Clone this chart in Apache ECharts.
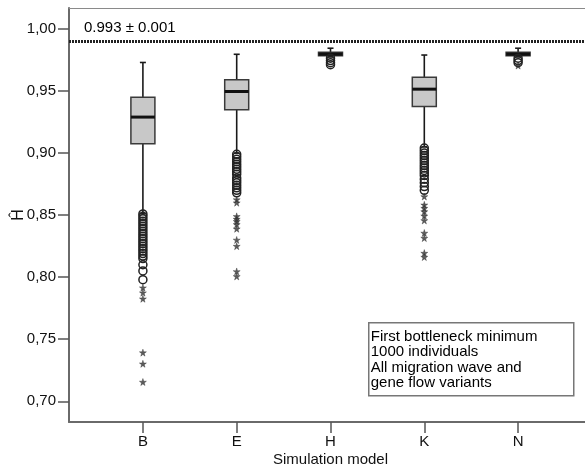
<!DOCTYPE html>
<html>
<head>
<meta charset="utf-8">
<title>Simulation model</title>
<script src="https://cdn.jsdelivr.net/npm/echarts@6/dist/echarts.min.js"></script>
<style>
html, body { margin: 0; padding: 0; background: #fff; }
#chart { width: 585px; height: 475px; }
</style>
</head>
<body>
<div id="chart"></div>
<script>
'use strict';

// categories and box statistics
var categories = ['B', 'E', 'H', 'K', 'N'];
var whiskerLow = [0.851, 0.900, 0.9775, 0.905, 0.9775];
var q1 = [0.9075, 0.935, 0.9785, 0.9375, 0.9785];
var median = [0.929, 0.9496, 0.9797, 0.9515, 0.9797];
var q3 = [0.945, 0.959, 0.9812, 0.961, 0.9812];
var whiskerHigh = [0.973, 0.9796, 0.9845, 0.979, 0.9845];

// outliers (circles) and extremes (stars)
var circlesB = [0.851, 0.849, 0.847, 0.845, 0.843, 0.841, 0.839, 0.837, 0.835, 0.833, 0.831,
    0.829, 0.827, 0.825, 0.823, 0.821, 0.819, 0.817, 0.815, 0.810, 0.805, 0.798];
var starsB = [0.7915, 0.7875, 0.7826, 0.7392, 0.7302, 0.7155];
var circlesE = [0.899, 0.897, 0.895, 0.893, 0.891, 0.889, 0.887, 0.885, 0.883, 0.880,
    0.878, 0.876, 0.874, 0.872, 0.870, 0.868];
var starsE = [0.8625, 0.8600, 0.8490, 0.8468, 0.8450, 0.8425, 0.8390, 0.8300, 0.8250, 0.8046, 0.8006];
var circlesH = [0.9765, 0.9745, 0.9728, 0.9712];
var starsH = [];
var circlesK = [0.904, 0.902, 0.900, 0.898, 0.896, 0.894, 0.892, 0.890, 0.888, 0.886,
    0.884, 0.882, 0.879, 0.876, 0.873, 0.870];
var starsK = [0.865, 0.8583, 0.8556, 0.8529, 0.8494, 0.8457, 0.8356, 0.8315, 0.8194, 0.8162];
var circlesN = [0.9765, 0.9745, 0.9728];
var starsN = [0.9705];

var yTicks = [0.70, 0.75, 0.80, 0.85, 0.90, 0.95, 1.00];
var yMin = 0.6833;
var yMax = 1.0169;
var refValue = 0.993;
var refError = 0.001;
var noteLines = ['First bottleneck minimum', '1000 individuals', 'All migration wave and', 'gene flow variants'];

var FONT = '"Liberation Sans", Arial, Helvetica, sans-serif';

var boxData = categories.map(function (c, i) {
    return [i, whiskerLow[i], q1[i], median[i], q3[i], whiskerHigh[i]];
});

function toPoints(lists) {
    var out = [];
    lists.forEach(function (list, i) {
        list.forEach(function (v) { out.push([categories[i], v]); });
    });
    return out;
}
var circleData = toPoints([circlesB, circlesE, circlesH, circlesK, circlesN]);
var starData = toPoints([starsB, starsE, starsH, starsK, starsN]);

// box, whiskers and small caps like SPSS draws them
function renderBox(params, api) {
    var x = api.value(0);
    var lo = api.coord([x, api.value(1)]);
    var b1 = api.coord([x, api.value(2)]);
    var md = api.coord([x, api.value(3)]);
    var b3 = api.coord([x, api.value(4)]);
    var hi = api.coord([x, api.value(5)]);
    var half = 12, cap = 3;
    var line = { stroke: '#1a1a1a', lineWidth: 1.6 };
    return {
        type: 'group',
        children: [
            { type: 'line', shape: { x1: lo[0], y1: lo[1], x2: b1[0], y2: b1[1] }, style: line },
            { type: 'line', shape: { x1: b3[0], y1: b3[1], x2: hi[0], y2: hi[1] }, style: line },
            { type: 'line', shape: { x1: hi[0] - cap, y1: hi[1], x2: hi[0] + cap, y2: hi[1] }, style: line },
            { type: 'line', shape: { x1: lo[0] - cap, y1: lo[1], x2: lo[0] + cap, y2: lo[1] }, style: line },
            {
                type: 'rect',
                shape: { x: b3[0] - half, y: b3[1], width: half * 2, height: b1[1] - b3[1] },
                style: { fill: '#c8c8c8', stroke: '#3a3a3a', lineWidth: 1.5 }
            },
            { type: 'line', shape: { x1: md[0] - half, y1: md[1], x2: md[0] + half, y2: md[1] },
              style: { stroke: '#111', lineWidth: 3 } }
        ]
    };
}

var starPath = 'path://M50,0 L61,35 L98,35 L68,57 L79,91 L50,70 L21,91 L32,57 L2,35 L39,35 Z';

var chart = echarts.init(document.getElementById('chart'), null, { renderer: 'canvas' });

chart.setOption({
    animation: false,
    backgroundColor: '#fff',
    textStyle: { fontFamily: FONT },
    grid: [
        // frame grid (axes lines, y ticks)
        { left: 69, right: 0, top: 8, bottom: 53, outerBoundsMode: 'none', containLabel: false },
        // data grid (categories)
        { left: 96, right: 20, top: 8, bottom: 53, outerBoundsMode: 'none', containLabel: false }
    ],
    xAxis: [
        {
            gridIndex: 0, type: 'value', min: 0, max: 1, position: 'bottom',
            axisLine: { show: true, lineStyle: { color: '#6a6a6a', width: 2 } },
            axisTick: { show: false }, axisLabel: { show: false }, splitLine: { show: false }
        },
        {
            gridIndex: 0, type: 'value', min: 0, max: 1, position: 'top',
            axisLine: { show: true, lineStyle: { color: '#8a8a8a', width: 1 } },
            axisTick: { show: false }, axisLabel: { show: false }, splitLine: { show: false }
        },
        {
            gridIndex: 1, type: 'category', data: categories,
            axisLine: { show: false },
            axisTick: { show: true, alignWithLabel: true, length: 11, lineStyle: { color: '#555', width: 1.5 } },
            axisLabel: { fontSize: 15, color: '#111', margin: 12, fontFamily: FONT },
            name: 'Simulation model', nameLocation: 'middle', nameGap: 30, nameMoveOverlap: false,
            nameTextStyle: { fontSize: 15, color: '#111', fontFamily: FONT }
        }
    ],
    yAxis: [
        {
            gridIndex: 0, type: 'value', min: yMin, max: yMax,
            axisLine: { show: true, lineStyle: { color: '#6a6a6a', width: 2 } },
            axisTick: { show: true, length: 11, customValues: yTicks, lineStyle: { color: '#555', width: 1.5 } },
            axisLabel: {
                customValues: yTicks, fontSize: 15, color: '#111', margin: 13, fontFamily: FONT,
                formatter: function (v) { return v.toFixed(2).replace('.', ','); }
            },
            splitLine: { show: false },
            name: 'Ĥ', nameLocation: 'middle', nameGap: 42, nameMoveOverlap: false,
            nameTextStyle: { fontSize: 16, color: '#111', fontFamily: FONT }
        },
        {
            gridIndex: 1, type: 'value', min: yMin, max: yMax, show: false
        }
    ],
    series: [
        {
            // reference line 0.993 ± 0.001
            type: 'scatter', xAxisIndex: 0, yAxisIndex: 0, data: [],
            silent: true,
            markLine: {
                symbol: 'none', silent: true,
                lineStyle: { color: '#222', width: 3, type: [2, 1] },
                label: {
                    show: true, position: 'insideStartTop', distance: [15, 6],
                    fontSize: 15, color: '#000', fontFamily: FONT,
                    formatter: function () { return refValue.toFixed(3) + ' ± ' + refError.toFixed(3); }
                },
                data: [{ yAxis: refValue }]
            }
        },
        {
            type: 'custom', xAxisIndex: 2, yAxisIndex: 1,
            renderItem: renderBox,
            encode: { x: 0, y: [1, 2, 3, 4, 5] },
            data: boxData, z: 2
        },
        {
            type: 'scatter', xAxisIndex: 2, yAxisIndex: 1,
            symbol: 'circle', symbolSize: 8,
            itemStyle: { color: 'rgba(255,255,255,0)', borderColor: '#222', borderWidth: 1.5, opacity: 1 },
            data: circleData, z: 3
        },
        {
            type: 'scatter', xAxisIndex: 2, yAxisIndex: 1,
            symbol: starPath, symbolSize: 7,
            itemStyle: { color: '#333', borderColor: '#333', borderWidth: 0.5 },
            data: starData, z: 3
        }
    ],
    graphic: [
        {
            type: 'group', left: 368, top: 322,
            children: [
                {
                    type: 'rect', shape: { x: 0, y: 0, width: 205, height: 73 },
                    style: { fill: '#fff', stroke: '#777', lineWidth: 1.5 }
                },
                {
                    type: 'text', x: 2, y: 6,
                    style: {
                        text: noteLines.join('\n'), fontSize: 15, lineHeight: 15.5,
                        fill: '#000', fontFamily: FONT
                    }
                }
            ]
        }
    ]
});
</script>
</body>
</html>
